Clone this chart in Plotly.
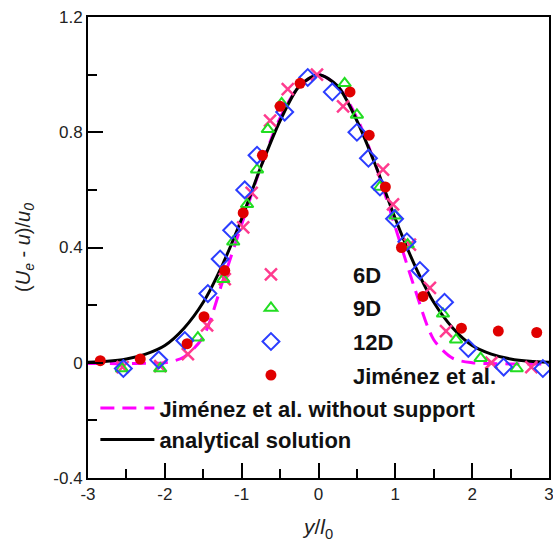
import plotly.graph_objects as go

# ---------------- data ----------------
x_6d = [-2.55, -2.06, -1.70, -1.45, -1.22, -0.98, -0.87, -0.63, -0.40, -0.02,
        0.32, 0.84, 0.97, 1.19, 1.45, 1.66, 2.25, 2.77]
y_6d = [-0.015, -0.012, 0.03, 0.13, 0.29, 0.47, 0.59, 0.84, 0.95, 1.0,
        0.89, 0.67, 0.55, 0.41, 0.26, 0.11, 0.0, -0.015]

x_9d = [-2.56, -2.06, -1.57, -1.24, -1.11, -0.93, -0.80, -0.66, -0.48,
        0.34, 0.50, 0.80, 1.00, 1.16, 1.62, 1.79, 2.11, 2.58]
y_9d = [-0.02, -0.02, 0.087, 0.29, 0.42, 0.55, 0.67, 0.81, 0.90,
        0.97, 0.86, 0.61, 0.51, 0.41, 0.17, 0.08, 0.016, -0.02]

x_12d = [-2.54, -2.08, -1.74, -1.44, -1.28, -1.13, -0.96, -0.80, -0.44, -0.14,
         0.18, 0.50, 0.65, 0.80, 0.99, 1.15, 1.32, 1.64, 1.95, 2.41, 2.92]
y_12d = [-0.02, 0.01, 0.077, 0.24, 0.36, 0.46, 0.60, 0.72, 0.87, 0.99,
         0.94, 0.80, 0.71, 0.61, 0.50, 0.42, 0.32, 0.21, 0.05, -0.015, -0.02]

x_jim = [-2.84, -2.32, -1.71, -1.49, -1.22, -0.98, -0.73, -0.50, -0.24,
         0.41, 0.66, 0.87, 1.08, 1.36, 1.86, 2.34, 2.84]
y_jim = [0.007, 0.013, 0.066, 0.16, 0.32, 0.52, 0.72, 0.89, 0.97,
         0.94, 0.79, 0.61, 0.40, 0.23, 0.12, 0.11, 0.105]

x_curve = [-3, -2.75, -2.5, -2.25, -2, -1.75, -1.5, -1.25, -1, -0.75, -0.5, -0.25, 0,
           0.25, 0.5, 0.75, 1, 1.25, 1.5, 1.75, 2, 2.25, 2.5, 2.75, 3]
y_nosupport = [-0.003, -0.003, -0.003, -0.002, 0.0, 0.02, 0.09, 0.28, 0.48, 0.68, 0.85, 0.96, 1.0,
               0.96, 0.85, 0.68, 0.47, 0.26, 0.08, 0.015, 0.0, -0.003, -0.004, -0.004, -0.004]
y_analytic = [0.002, 0.005, 0.013, 0.03, 0.06, 0.12, 0.21, 0.34, 0.50, 0.68, 0.84, 0.96, 1.0,
              0.96, 0.84, 0.68, 0.50, 0.34, 0.21, 0.12, 0.06, 0.03, 0.013, 0.005, 0.002]

x_tickvals = [-3, -2, -1, 0, 1, 2, 3]
x_ticktext = ["-3", "-2", "-1", "0", "1", "2", "3"]
y_tickvals = [-0.4, 0, 0.4, 0.8, 1.2]
y_ticktext = ["-0.4", "0", "0.4", "0.8", "1.2"]

FONT = "Arial, Liberation Sans, sans-serif"

fig = go.Figure()

fig.add_trace(go.Scatter(
    x=x_curve, y=y_nosupport, mode="lines", name="Jiménez et al. without support",
    line=dict(color="#ff00ff", width=3, dash="14px,8px", shape="spline", smoothing=0.8),
    legend="legend2", legendgroup="g5"))
fig.add_trace(go.Scatter(
    x=x_curve, y=y_analytic, mode="lines", name="analytical solution",
    line=dict(color="black", width=3, shape="spline", smoothing=0.8),
    legend="legend2", legendgroup="g6"))

fig.add_trace(go.Scatter(
    x=x_6d, y=y_6d, mode="markers", name="6D",
    marker=dict(symbol="x-thin-open", size=12, color="#ff3b8e",
                line=dict(color="#ff3b8e", width=2.5)),
    legend="legend", legendgroup="g1"))
fig.add_trace(go.Scatter(
    x=x_9d, y=y_9d, mode="markers", name="9D",
    marker=dict(symbol="triangle-up-open", size=11, color="#22dd22",
                line=dict(color="#22dd22", width=2)),
    legend="legend", legendgroup="g2"))
fig.add_trace(go.Scatter(
    x=x_12d, y=y_12d, mode="markers", name="12D",
    marker=dict(symbol="diamond-open", size=13, color="#2b3dff",
                line=dict(color="#2b3dff", width=2)),
    legend="legend", legendgroup="g3"))
fig.add_trace(go.Scatter(
    x=x_jim, y=y_jim, mode="markers", name="Jiménez et al.",
    marker=dict(symbol="circle", size=11, color="#e00000"),
    legend="legend", legendgroup="g4"))

legend_font = dict(family=FONT, size=22, color="#111111", weight="bold")

fig.update_layout(
    width=553, height=543,
    margin=dict(l=88, r=4, t=17, b=65, autoexpand=False),
    paper_bgcolor="white", plot_bgcolor="white",
    font=dict(family=FONT, color="#222222"),
    legend=dict(x=0.219, y=0.487, xanchor="left", yanchor="top",
                bgcolor="rgba(0,0,0,0)", borderwidth=0, font=legend_font,
                itemwidth=154, tracegroupgap=2, traceorder="grouped"),
    legend2=dict(x=0.016, y=0.197, xanchor="left", yanchor="top",
                 bgcolor="rgba(0,0,0,0)", borderwidth=0, font=legend_font,
                 itemwidth=54, tracegroupgap=0, traceorder="grouped"),
    xaxis=dict(range=[-3, 3], tickvals=x_tickvals, ticktext=x_ticktext,
               ticks="inside", ticklen=15, tickwidth=2, tickcolor="black",
               minor=dict(dtick=0.5, ticks="inside", ticklen=9, tickwidth=2, tickcolor="black"),
               showline=True, linewidth=2, linecolor="black", mirror=True,
               showgrid=False, zeroline=False, automargin=False,
               ticklabeloverflow="allow",
               tickfont=dict(family=FONT, size=17, color="#222222"),
               title=dict(text="<i>y</i>/<i>l</i><sub>0</sub>",
                          font=dict(family=FONT, size=21, color="#222222"), standoff=16)),
    yaxis=dict(range=[-0.4, 1.2], tickvals=y_tickvals, ticktext=y_ticktext,
               ticks="inside", ticklen=15, tickwidth=2, tickcolor="black",
               minor=dict(dtick=0.2, ticks="inside", ticklen=9, tickwidth=2, tickcolor="black"),
               showline=True, linewidth=2, linecolor="black", mirror=True,
               showgrid=False, zeroline=False, automargin=False,
               ticklabeloverflow="allow",
               tickfont=dict(family=FONT, size=17, color="#222222"),
               title=dict(text="(<i>U</i><sub><i>e</i></sub> - <i>u</i>)/<i>u</i><sub><i>0</i></sub>",
                          font=dict(family=FONT, size=20, color="#222222"), standoff=17)),
)

fig.write_html("out.html", config={"displayModeBar": False},
               post_script="document.body.style.margin='0';document.body.style.padding='0';")
